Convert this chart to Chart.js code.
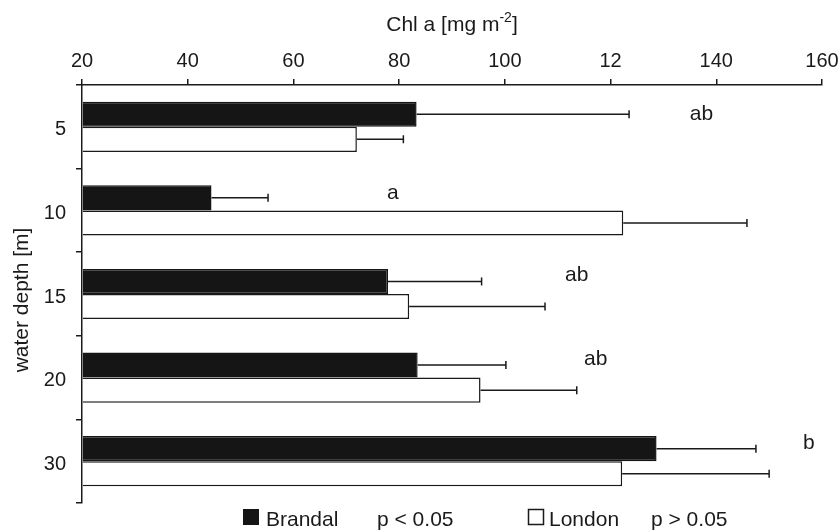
<!DOCTYPE html>
<html><head><meta charset="utf-8">
<script src="https://cdn.jsdelivr.net/npm/chart.js@4"></script>
<style>html,body{margin:0;padding:0;background:#fff}#wrap{width:838px;height:530px;position:relative}</style>
</head><body><div id="wrap"><canvas id="c" width="838" height="530"></canvas></div>
<script>
const depths = ['5','10','15','20','30'];
const brandal = [83.3, 44.5, 77.9, 83.5, 128.7];
const brandalErr = [40.2, 10.7, 17.7, 16.7, 18.8];
const london = [72.0, 122.4, 81.9, 95.4, 122.2];
const londonErr = [8.8, 23.4, 25.7, 18.2, 27.8];
const xTickValues = [20,40,60,80,100,120,140,160];
const xTickLabels = ['20','40','60','80','100','12','140','160'];
const sigLetters = ['ab','a','ab','ab','b'];
const sigLetterX = [137.2, 78.8, 113.6, 117.2, 157.5];

const FONT = "'Liberation Sans', Arial, sans-serif";
const INK = '#1a1a1a';
const LETTER_DY = [6, 1, 0, 0, 0];

const errorBars = {
  id: 'errorBars',
  afterDatasetsDraw(chart) {
    const ctx = chart.ctx, xs = chart.scales.x;
    const errs = [brandalErr, londonErr];
    chart.data.datasets.forEach((ds, di) => {
      const meta = chart.getDatasetMeta(di);
      meta.data.forEach((bar, i) => {
        const v = ds.data[i], e = errs[di][i];
        const x0 = xs.getPixelForValue(v), x1 = xs.getPixelForValue(v + e);
        const y = bar.y;
        ctx.save();
        ctx.strokeStyle = INK; ctx.lineWidth = 1.5;
        ctx.beginPath();
        ctx.moveTo(x0, y); ctx.lineTo(x1, y);
        ctx.moveTo(x1, y - 4); ctx.lineTo(x1, y + 4);
        ctx.stroke();
        ctx.restore();
      });
    });
    const meta0 = chart.getDatasetMeta(0);
    ctx.save();
    ctx.fillStyle = INK; ctx.font = '21px ' + FONT;
    ctx.textAlign = 'center'; ctx.textBaseline = 'alphabetic';
    sigLetters.forEach((s, i) => {
      ctx.fillText(s, xs.getPixelForValue(sigLetterX[i]), meta0.data[i].y + LETTER_DY[i]);
    });
    ctx.restore();
  }
};

const extras = {
  id: 'extras',
  afterDraw(chart) {
    const ctx = chart.ctx;
    ctx.save();
    ctx.fillStyle = INK;
    ctx.font = '21px ' + FONT;
    ctx.textBaseline = 'alphabetic';
    const t1 = 'Chl a [mg m', sup = '-2', t2 = ']';
    const w1 = ctx.measureText(t1).width, w2 = ctx.measureText(t2).width;
    ctx.font = '14px ' + FONT;
    const ws = ctx.measureText(sup).width;
    const total = w1 + ws + w2;
    let x = 452 - total / 2;
    ctx.font = '21px ' + FONT;
    ctx.textAlign = 'left';
    ctx.fillText(t1, x, 31);
    ctx.font = '14px ' + FONT;
    ctx.fillText(sup, x + w1, 22);
    ctx.font = '21px ' + FONT;
    ctx.fillText(t2, x + w1 + ws, 31);
    ctx.save();
    ctx.translate(22, 300);
    ctx.rotate(-Math.PI / 2);
    ctx.textAlign = 'center'; ctx.textBaseline = 'middle';
    ctx.fillText('water depth [m]', 0, 0);
    ctx.restore();
    ctx.fillStyle = '#151515';
    ctx.fillRect(243, 509, 16, 16);
    ctx.strokeStyle = INK; ctx.lineWidth = 1.5;
    ctx.strokeRect(528.5, 509.5, 15, 15);
    ctx.fillStyle = INK;
    ctx.textAlign = 'left'; ctx.textBaseline = 'alphabetic';
    ctx.fillText('Brandal', 266, 526);
    ctx.fillText('p < 0.05', 377, 526);
    ctx.fillText('London', 549, 526);
    ctx.fillText('p > 0.05', 651, 526);
    ctx.restore();
  }
};

new Chart(document.getElementById('c'), {
  type: 'bar',
  data: {
    labels: depths,
    datasets: [
      { label: 'Brandal', data: brandal, base: 20, backgroundColor: '#151515', borderColor: '#151515', borderWidth: 1.5 },
      { label: 'London', data: london, base: 20, backgroundColor: '#ffffff', borderColor: INK, borderWidth: 1.5 }
    ]
  },
  options: {
    indexAxis: 'y',
    responsive: false,
    animation: false,
    devicePixelRatio: 1,
    categoryPercentage: 0.6,
    barPercentage: 1.0,
    layout: { padding: { left: 0, right: 16, top: 0, bottom: 27 } },
    plugins: { legend: { display: false }, tooltip: { enabled: false } },
    scales: {
      x: {
        position: 'top', min: 20, max: 160,
        afterFit(s) { s.height = 85; s.paddingRight = 0; s.paddingLeft = 0; },
        afterBuildTicks(s) { s.ticks = xTickValues.map(v => ({ value: v })); },
        ticks: {
          color: INK, font: { family: FONT, size: 20 }, padding: 6,
          callback: (v) => { const k = xTickValues.indexOf(v); return k >= 0 ? xTickLabels[k] : ''; }
        },
        grid: { drawOnChartArea: false, drawTicks: true, tickLength: 6, color: INK, lineWidth: 1.5 },
        border: { display: true, color: INK, width: 1.5 }
      },
      y: {
        afterFit(s) { s.width = 82; },
        ticks: { color: INK, font: { family: FONT, size: 20 }, padding: 10, labelOffset: 3 },
        grid: { drawOnChartArea: false, drawTicks: true, tickLength: 6, color: INK, lineWidth: 1.5, offset: true },
        border: { display: true, color: INK, width: 1.5 }
      }
    }
  },
  plugins: [errorBars, extras]
});
</script></body></html>
